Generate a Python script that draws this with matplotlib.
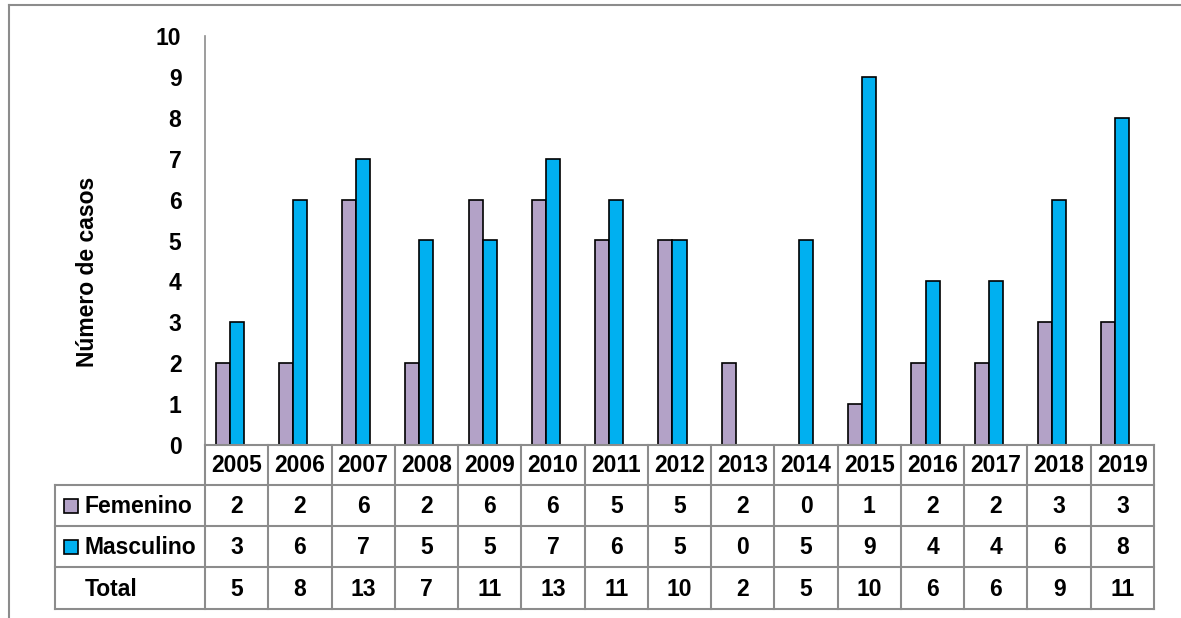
import matplotlib
matplotlib.use("Agg")
import matplotlib.pyplot as plt
from matplotlib.lines import Line2D
from matplotlib.patches import Rectangle
import numpy as np

years = ["2005", "2006", "2007", "2008", "2009", "2010", "2011", "2012",
         "2013", "2014", "2015", "2016", "2017", "2018", "2019"]
femenino = [2, 2, 6, 2, 6, 6, 5, 5, 2, 0, 1, 2, 2, 3, 3]
masculino = [3, 6, 7, 5, 5, 7, 6, 5, 0, 5, 9, 4, 4, 6, 8]
total = [5, 8, 13, 7, 11, 13, 11, 10, 2, 5, 10, 6, 6, 9, 11]
row_labels = ["Femenino", "Masculino", "Total"]

C_FEM = "#B3A2C7"
C_MAS = "#00B0F0"
GRID = "#8C8C8C"
FS = 16.5

plt.rcParams["font.family"] = ["Liberation Sans", "DejaVu Sans"]
plt.rcParams["font.weight"] = "bold"

W, H = 1181, 618
fig = plt.figure(figsize=(W / 100, H / 100), dpi=100)

# axes in pixel terms: x 205..1154, y 36..445 (from top)
x0, x1, ytop, ybot = 205, 1154, 36, 445
ax = fig.add_axes([x0 / W, 1 - ybot / H, (x1 - x0) / W, (ybot - ytop) / H])

n = len(years)
x = np.arange(n)
bw = 0.222
ax.bar(x - bw, femenino, width=bw, color=C_FEM, edgecolor="black", linewidth=1.2)
ax.bar(x, masculino, width=bw, color=C_MAS, edgecolor="black", linewidth=1.2)

ax.set_xlim(-0.5, n - 0.5)
ax.set_ylim(0, 10)
ax.set_yticks(range(0, 11))
ax.set_xticks([])
ax.tick_params(axis="y", length=0, labelsize=FS, pad=17)
for lbl in ax.get_yticklabels():
    lbl.set_fontweight("bold")
for side in ("top", "right", "bottom"):
    ax.spines[side].set_visible(False)
ax.spines["left"].set_color(GRID)
ax.spines["left"].set_linewidth(1.2)
ax.set_ylabel("Número de casos", fontsize=FS, fontweight="bold")
ax.yaxis.set_label_coords(-0.112, 0.424)

# data table under the plot, built in pixel coordinates
def px(xp):
    return xp / W

def py(yp):
    return 1 - yp / H

colw = (x1 - x0) / n
row_y = [445, 485, 526, 567, 609]
lab_x0 = 55

def hline(xa, xb, yp):
    fig.add_artist(Line2D([px(xa), px(xb)], [py(yp), py(yp)], color=GRID, lw=1.5))

def vline(xp, ya, yb):
    fig.add_artist(Line2D([px(xp), px(xp)], [py(ya), py(yb)], color=GRID, lw=1.5))

hline(x0, x1, row_y[0])
for yp in row_y[1:]:
    hline(lab_x0, x1, yp)
for i in range(n + 1):
    vline(x0 + i * colw, row_y[0], row_y[-1])
vline(lab_x0, row_y[1], row_y[-1])

for i, yr in enumerate(years):
    fig.text(px(x0 + (i + 0.5) * colw), py((row_y[0] + row_y[1]) / 2 + 1), yr,
             ha="center", va="center", fontsize=FS, fontweight="bold")

for r, vals in enumerate([femenino, masculino, total]):
    yc = (row_y[r + 1] + row_y[r + 2]) / 2 + 1
    for i, v in enumerate(vals):
        fig.text(px(x0 + (i + 0.5) * colw), py(yc), str(v),
                 ha="center", va="center", fontsize=FS, fontweight="bold")
    fig.text(px(85), py(yc), row_labels[r], ha="left", va="center",
             fontsize=FS, fontweight="bold")

for r, c in enumerate([C_FEM, C_MAS]):
    yc = (row_y[r + 1] + row_y[r + 2]) / 2
    fig.add_artist(Rectangle((px(64), py(yc + 7)), 14 / W, 14 / H,
                             facecolor=c, edgecolor="black", lw=1.2))

# outer frame of the chart object
fig.add_artist(Line2D([px(9), px(W)], [py(5), py(5)], color=GRID, lw=1.5))
fig.add_artist(Line2D([px(9), px(9)], [py(5), py(H)], color=GRID, lw=1.5))

fig.savefig("out.png", dpi=100)
